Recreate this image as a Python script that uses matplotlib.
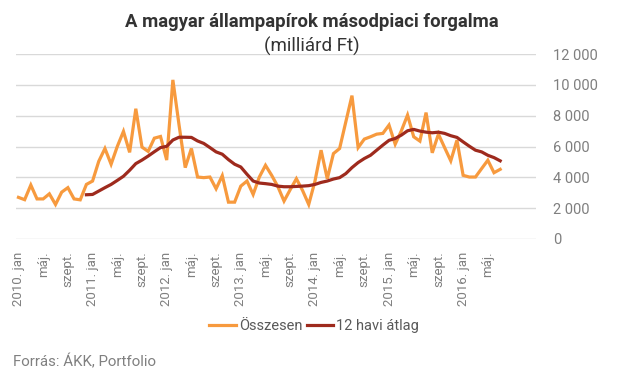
#!/usr/bin/env python3
# -*- coding: utf-8 -*-
"""
Hungarian government securities secondary market turnover, monthly.
"""

import matplotlib
matplotlib.use("Agg")
import matplotlib.pyplot as plt
from matplotlib.ticker import FuncFormatter

plt.rcParams["font.family"] = ["Roboto", "DejaVu Sans"]

# monthly values, 2010 jan .. 2016 jul (milliárd Ft)
total = [
    2700, 2550, 3500, 2600, 2600, 2930, 2240, 3040, 3330, 2600, 2540, 3540,   # 2010
    3760, 5040, 5870, 4850, 6000, 6980, 5620, 8450, 5960, 5680, 6540, 6650,   # 2011
    5120, 10320, 7400, 4630, 5870, 4020, 3980, 4020, 3260, 4110, 2390, 2390,  # 2012
    3430, 3760, 2890, 4020, 4780, 4130, 3400, 2460, 3200, 3910, 3150, 2240,   # 2013
    3740, 5760, 3910, 5540, 5870, 7590, 9300, 5930, 6480, 6630, 6800, 6850,   # 2014
    7390, 6150, 7020, 8040, 6630, 6350, 8200, 5590, 6800, 5930, 5070, 6410,   # 2015
    4130, 4020, 4020, 4570, 5110, 4300, 4520,                                 # 2016
]

# 12 havi átlag starts at 2010 dec (month index 11)
avg_start = 11
avg12 = [
    2870, 2890, 3110, 3330, 3540, 3800, 4070, 4460, 4890, 5120, 5380, 5660,
    5930, 6010, 6420, 6600, 6600, 6590, 6360, 6200, 5930, 5650, 5500, 5150,
    4850, 4670, 4200, 3760, 3630, 3590, 3540, 3430, 3390, 3390, 3410, 3430,
    3460, 3540, 3670, 3760, 3890, 3980, 4240, 4630, 4960, 5220, 5430, 5760,
    6090, 6400, 6520, 6740, 7020, 7110, 7000, 6930, 6890, 6930, 6850, 6700,
    6590, 6300, 6020, 5760, 5650, 5430, 5280, 5070,
]

years = [2010, 2011, 2012, 2013, 2014, 2015, 2016]
y_ticks = [0, 2000, 4000, 6000, 8000, 10000, 12000]

ORANGE = "#F79A3E"
DARKRED = "#9E2A1D"
GRID = "#D9D9D9"
TEXT = "#333333"
TICK = "#7F7F7F"

fig = plt.figure(figsize=(6.24, 3.78), dpi=100)
ax = fig.add_axes([16 / 624, 139 / 378, 520 / 624, 185 / 378])

months = list(range(len(total)))
avg_x = list(range(avg_start, avg_start + len(avg12)))

ax.plot(months, total, color=ORANGE, lw=2.3, solid_joinstyle="miter",
        label="Összesen", zorder=3)
ax.plot(avg_x, avg12, color=DARKRED, lw=2.3, label="12 havi átlag", zorder=4)

ax.set_xlim(-0.4, 83.8)
ax.set_ylim(0, 12000)

# tick labels every 4 months
xt, xl = [], []
for i in range(0, len(total), 4):
    xt.append(i)
    mm = i % 12
    if mm == 0:
        xl.append(f"{years[i // 12]}. jan")
    elif mm == 4:
        xl.append("máj.")
    else:
        xl.append("szept.")
ax.set_xticks(xt)
ax.set_xticklabels(xl, rotation=90, va="top", ha="center",
                   fontsize=9.5, color=TICK)

ax.set_yticks(y_ticks)
ax.yaxis.set_major_formatter(FuncFormatter(lambda v, p: f"{int(v):,}".replace(",", " ")))
ax.yaxis.tick_right()
ax.tick_params(axis="y", length=0, pad=12, labelsize=10.5, labelcolor=TICK)
ax.tick_params(axis="x", length=0, pad=9)

ax.grid(axis="y", color=GRID, lw=1)
ax.set_axisbelow(True)
for s in ax.spines.values():
    s.set_visible(False)

fig.text(0.5, 1 - 22 / 378, "A magyar állampapírok másodpiaci forgalma",
         ha="center", va="center", fontsize=13.3, fontweight="bold", color=TEXT)
fig.text(0.5, 1 - 46 / 378, "(milliárd Ft)",
         ha="center", va="center", fontsize=13.5, color=TEXT)

fig.legend(loc="center", bbox_to_anchor=(314 / 624, 52 / 378), ncol=2,
           frameon=False, fontsize=10.5, handlelength=1.8, handletextpad=0.2,
           columnspacing=0.3, labelcolor="#595959")

fig.text(13 / 624, 1 - 362 / 378, "Forrás: ÁKK, Portfolio",
         ha="left", va="center", fontsize=10.8, color="#808080")

fig.savefig("out.png", dpi=100)
